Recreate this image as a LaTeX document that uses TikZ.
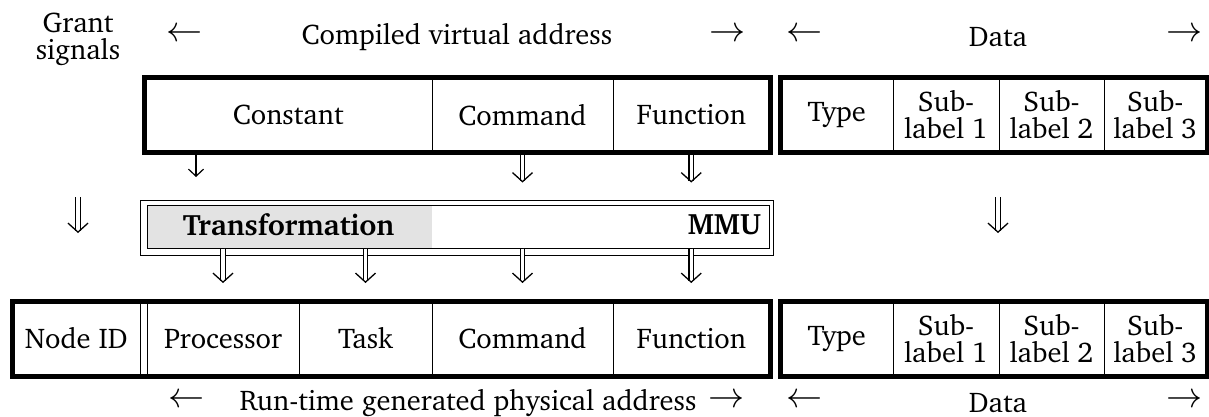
\documentclass[tikz,border=0pt]{standalone}
\usepackage[T1]{fontenc}
\usepackage{charter}
\usetikzlibrary{arrows.meta}

\newcommand{\mainsize}{\fontsize{28.5}{27}\selectfont}

\tikzset{
  txt/.style={inner sep=0pt, font=\mainsize, align=center},
  arr/.style={inner sep=0pt, font=\fontsize{24.88}{25}\selectfont, scale=1.45},
  cell/.style={draw, line width=1pt, inner sep=0pt, minimum height=#1,
               font=\mainsize, align=center},
  cell/.default=73pt,
  frame/.style={line width=5pt},
  thinbox/.style={draw, line width=1pt, inner sep=0pt},
  dbl/.style={double, double distance=3.4pt, line width=1.2pt,
              -{Straight Barb[length=9pt, width=20pt, line width=1.3pt]}},
  sgl/.style={line width=1.2pt, -{Straight Barb[length=7pt, width=15pt, line width=1.2pt]}},
}

\begin{document}
\begin{tikzpicture}[x=1pt, y=-1pt]
\useasboundingbox (0,0) rectangle (1209,417);

% ---- top labels
\node[txt] (grant) at (78,39) {Grant\\signals};
\node[arr] (vaL) at (185,35) {$\leftarrow$};
\node[txt] (va)  at (457,37) {Compiled virtual address};
\node[arr] (vaR) at (728,35) {$\rightarrow$};
\node[arr] (dtL) at (805,35) {$\leftarrow$};
\node[txt] (dt)  at (998,37) {Data};
\node[arr] (dtR) at (1185,35) {$\rightarrow$};

% ---- compiled virtual address word
\node[cell, minimum width=287.5pt] (constT) at (288.25,115) {Constant};
\node[cell, minimum width=181pt]   (cmdT)   at (522.5,115)  {Command};
\node[cell, minimum width=156.5pt] (funT)   at (691.25,115) {Function};
\node[cell, minimum width=112.5pt] (typeT)  at (836.75,115) {Type};
\node[cell, minimum width=106pt]   (sa)     at (946,115)    {Sub-\\label 1};
\node[cell, minimum width=105pt]   (sb)     at (1051.5,115) {Sub-\\label 2};
\node[cell, minimum width=102.5pt] (sc)     at (1155.25,115) {Sub-\\label 3};

% ---- run-time generated physical address word
\node[cell=74pt, minimum width=127.5pt] (nid)   at (76.25,338.5) {Node ID};
\node[cell=74pt, minimum width=152pt]   (proc)  at (223,338.5)   {Processor};
\node[cell=74pt, minimum width=133pt]   (task)  at (365.5,338.5) {Task};
\node[cell=74pt, minimum width=181pt]   (cmdB)  at (522.5,338.5) {Command};
\node[cell=74pt, minimum width=156.5pt] (funB)  at (691.25,338.5) {Function};
\node[cell=74pt, minimum width=112.5pt] (typeB) at (836.75,338.5) {Type};
\node[cell=74pt, minimum width=106pt]   (ta)    at (946,338.5)    {Sub-\\label 1};
\node[cell=74pt, minimum width=105pt]   (tb)    at (1051.5,338.5) {Sub-\\label 2};
\node[cell=74pt, minimum width=102.5pt] (tc)    at (1155.25,338.5) {Sub-\\label 3};

% ---- MMU
\node[thinbox, minimum width=633pt, minimum height=55pt] (mmuout) at (456.5,227.5) {};
\fill[black!11] (147,205) rectangle (432,248);
\node[thinbox, minimum width=622pt, minimum height=43pt] (mmuin) at (458,226.5) {};
\node[txt, font=\fontsize{29.5}{30}\selectfont\bfseries] (trans) at (288.5,225) {Transformation};
\node[txt, font=\fontsize{29.5}{30}\selectfont\bfseries, anchor=east] (mmu) at (761,225) {MMU};

% ---- arrows from the virtual address into the MMU
\coordinate (cA) at (196,151.5);
\coordinate (cB) at (196,177);
\draw[sgl] (cA) -- (cB);
\draw[dbl, shorten >=17pt] (cmdT.south) -- (cmdT.south |- mmuout.north);
\draw[dbl, shorten >=17pt] (funT.south) -- (funT.south |- mmuout.north);

% ---- arrows from the MMU into the physical address
\foreach \c in {proc, task, cmdB, funB}
  \draw[dbl, shorten >=18pt] (mmuin.south -| \c.north) -- (\c.north);

% ---- pass-through arrows
\coordinate (gA) at (78,197);
\coordinate (gB) at (78,233);
\draw[dbl] (gA) -- (gB);
\coordinate (dA) at (998,197);
\coordinate (dB) at (998,233);
\draw[dbl] (dA) -- (dB);

% ---- heavy frames
\draw[frame] (constT.north west) rectangle (funT.south east);
\draw[frame] (typeT.north west) rectangle (sc.south east);
\draw[frame] (nid.north west) rectangle (funB.south east);
\draw[frame] (typeB.north west) rectangle (tc.south east);

% ---- bottom labels
\node[arr] (paL) at (187,401) {$\leftarrow$};
\node[txt] (pa)  at (468,403) {Run-time generated physical address};
\node[arr] (paR) at (727,401) {$\rightarrow$};
\node[arr] (ddL) at (805,401) {$\leftarrow$};
\node[txt] (dd)  at (998,403) {Data};
\node[arr] (ddR) at (1185,401) {$\rightarrow$};
\end{tikzpicture}
\end{document}
